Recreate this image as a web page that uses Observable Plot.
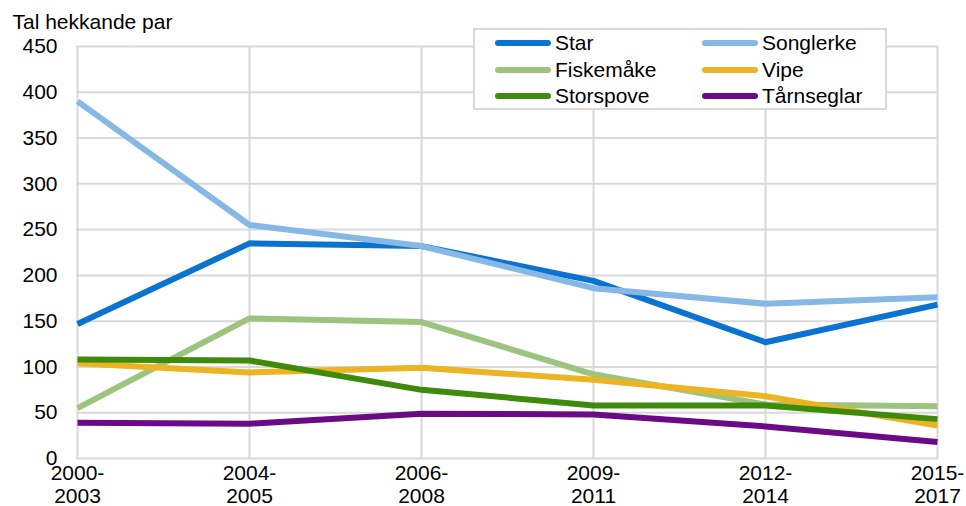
<!DOCTYPE html>
<html><head><meta charset="utf-8">
<script src="https://cdn.jsdelivr.net/npm/d3@7"></script>
<script src="https://cdn.jsdelivr.net/npm/@observablehq/plot@0.6"></script>
<style>
body{margin:0;background:#fff;font-family:"Liberation Sans",Arial,sans-serif;}
#wrap{position:relative;width:966px;height:506px;}
#legend{position:absolute;left:473px;top:28px;width:414px;height:82px;border:2px solid #d9d9d9;background:#fff;box-sizing:border-box;font-size:21px;color:#000;}
.item{position:absolute;display:flex;align-items:center;height:24px;line-height:24px;}
.sw{width:56px;height:6px;border-radius:3px;margin-right:4px;}
</style></head>
<body><div id="wrap"><div id="legend"></div></div>
<script>
const periods = ["2000-2003","2004-2005","2006-2008","2009-2011","2012-2014","2015-2017"];
const seriesNames = ["Star","Songlerke","Fiskemåke","Vipe","Storspove","Tårnseglar"];
const colors = ["#0a72d1","#86b8e6","#9dc47f","#ecb422","#3e8a0a","#6b0a85"];
const star = [147,235,232,194,127,168];
const songlerke = [390,255,232,186,169,176];
const fiskemake = [55,153,149,92,59,57];
const vipe = [104,94,99,86,68,36];
const storspove = [108,107,75,58,58,43];
const tarnseglar = [39,38,49,48,35,18];
const yTicks = [0,50,100,150,200,250,300,350,400,450];

const values = [star,songlerke,fiskemake,vipe,storspove,tarnseglar];
const data = [];
seriesNames.forEach((s,i)=>periods.forEach((p,j)=>data.push({series:s,period:p,value:values[i][j]})));

const chart = Plot.plot({
  width:966, height:506,
  marginLeft:76, marginRight:28, marginTop:46, marginBottom:48,
  style:{fontFamily:"Liberation Sans, Arial, sans-serif", fontSize:"21px", color:"#000", background:"#fff", overflow:"visible"},
  x:{type:"point", domain:periods, padding:0, label:null},
  y:{domain:[0,450], label:null},
  color:{domain:seriesNames, range:colors},
  marks:[
    Plot.ruleY(yTicks,{stroke:"#d9d9d9", strokeWidth:2, strokeOpacity:1}),
    Plot.ruleX(periods,{stroke:"#d9d9d9", strokeWidth:2, strokeOpacity:1}),
    Plot.axisY(yTicks,{tickSize:0, tickPadding:19, fontSize:21, fill:"#000"}),
    Plot.axisX({tickSize:0, tickPadding:5, fontSize:21, fill:"#000", lineHeight:1.1,
      tickFormat:d=>d.replace("-","-\n")}),
    Plot.line(data,{x:"period", y:"value", z:"series", stroke:"series", strokeWidth:6, strokeLinejoin:"round", strokeLinecap:"butt"}),
    Plot.text(["Tal hekkande par"],{frameAnchor:"top-left", dx:-64, dy:-24, lineAnchor:"middle", text:d=>d, fontSize:21, fill:"#000", textAnchor:"start"})
  ]
});
document.getElementById("wrap").prepend(chart);

const legend = document.getElementById("legend");
seriesNames.forEach((s,i)=>{
  const col = i%2, row = Math.floor(i/2);
  const d = document.createElement("div");
  d.className="item";
  d.style.left = (col===0?20:227)+"px";
  d.style.top = (1+row*26.5)+"px";
  d.innerHTML = `<div class="sw" style="background:${colors[i]}"></div><span>${s}</span>`;
  legend.appendChild(d);
});
</script></body></html>
